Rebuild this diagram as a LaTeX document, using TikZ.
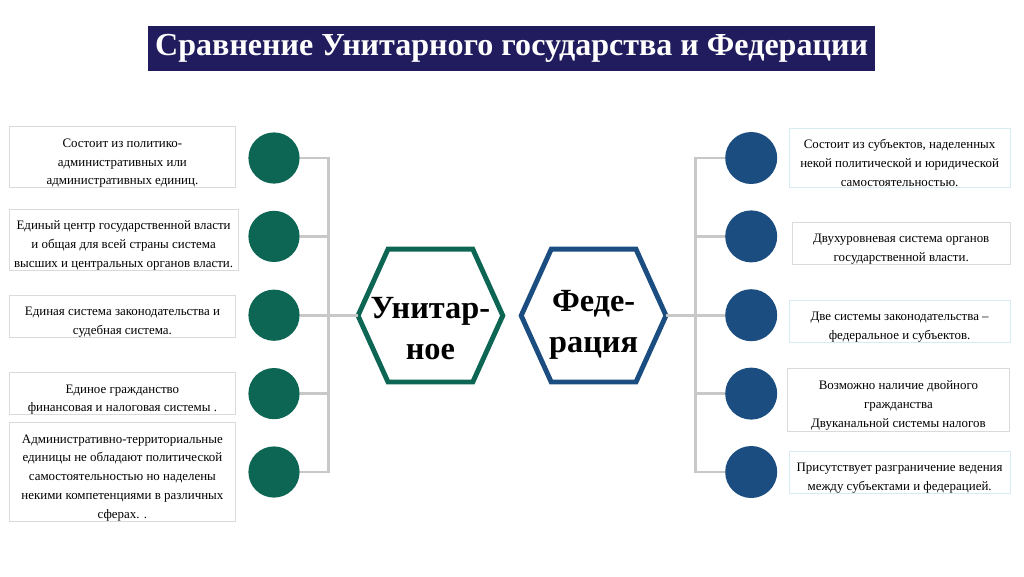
\documentclass[tikz,border=0pt]{standalone}
\usepackage{fontspec}
\setmainfont{Liberation Serif}
\definecolor{titlebg}{RGB}{33,28,94}
\definecolor{unigreen}{RGB}{13,102,84}
\definecolor{fedblue}{RGB}{27,77,128}
\definecolor{trunkgray}{RGB}{200,200,200}
\definecolor{boxgray}{RGB}{218,218,218}
\definecolor{boxcyan}{RGB}{214,236,240}
\newcommand\boxstrut{\rule{0pt}{14.5pt}}
\begin{document}
\begin{tikzpicture}[
textbox/.style={draw=boxgray,line width=0.6pt,align=center,inner sep=0pt,
  font=\fontsize{9.2}{13.4}\selectfont},
dotU/.style={circle,fill=unigreen,minimum size=1.28cm,inner sep=0pt},
dotF/.style={circle,fill=fedblue,minimum size=1.3cm,inner sep=0pt},
trunk/.style={draw=trunkgray,line width=2.1pt},
hexlabel/.style={align=center,font=\fontsize{23}{29.5}\bfseries\selectfont},
hexline/.style={line width=3.5pt,line join=miter}
]

\useasboundingbox
(0,0)
rectangle
(25.6,-14.4);

\node[fill=titlebg,text=white,minimum width=18.17cm,minimum height=1.12cm,
  font=\fontsize{22.8}{26}\bfseries\selectfont]
(T)
at (12.79,-1.21)
{Сравнение Унитарного государства и Федерации};

\node[hexlabel]
(U)
at (10.76,-8.22)
{Унитар-\\ное};

\draw[hexline,draw=unigreen]
(10.76,-7.89) ++(-1.81,0) coordinate (Uw)
-- ++(0.75,1.66)
-- ++(2.12,0)
-- ++(0.75,-1.66)
-- ++(-0.75,-1.66)
-- ++(-2.12,0)
-- cycle;

\node[hexlabel]
(F)
at (14.84,-8.12)
{Феде-\\рация};

\draw[hexline,draw=fedblue]
(14.84,-7.89) ++(-1.81,0)
-- ++(0.75,1.66)
-- ++(2.12,0)
-- ++(0.75,-1.66) coordinate (Fe)
-- ++(-0.75,-1.66)
-- ++(-2.12,0)
-- cycle;

\node[dotU] (L1) at (6.85,-3.95) {};
\node[dotU] (L2) at (6.85,-5.91) {};
\node[dotU] (L3) at (6.85,-7.88) {};
\node[dotU] (L4) at (6.85,-9.84) {};
\node[dotU] (L5) at (6.85,-11.80) {};

\coordinate (LT) at (8.22,0);

\draw[trunk] (L1.east) -- (L1.east -| LT) -- (L5.east -| LT) -- (L5.east);
\draw[trunk] (L2.east) -- (L2.east -| LT);
\draw[trunk] (L3.east) -- (L3.east -| LT);
\draw[trunk] (L4.east) -- (L4.east -| LT);
\draw[trunk] (Uw) -- (Uw -| LT);

\node[dotF] (R1) at (18.78,-3.95) {};
\node[dotF] (R2) at (18.78,-5.91) {};
\node[dotF] (R3) at (18.78,-7.88) {};
\node[dotF] (R4) at (18.78,-9.84) {};
\node[dotF] (R5) at (18.78,-11.80) {};

\coordinate (RT) at (17.38,0);

\draw[trunk] (R1.west) -- (R1.west -| RT) -- (R5.west -| RT) -- (R5.west);
\draw[trunk] (R2.west) -- (R2.west -| RT);
\draw[trunk] (R3.west) -- (R3.west -| RT);
\draw[trunk] (R4.west) -- (R4.west -| RT);
\draw[trunk] (Fe) -- (Fe -| RT);

\node[textbox,minimum width=5.67cm,minimum height=1.5cm]
(A1)
at (3.06,-3.93)
{\boxstrut Состоит из политико-\\административных или\\административных единиц.};

\node[textbox,minimum width=5.72cm,minimum height=1.52cm]
(A2)
at (3.09,-5.99)
{\boxstrut Единый центр государственной власти\\и общая для всей страны система\\высших и центральных органов власти.};

\node[textbox,minimum width=5.67cm,minimum height=1.05cm]
(A3)
at (3.06,-7.90)
{\boxstrut Единая система законодательства и\\судебная система.};

\node[textbox,minimum width=5.67cm,minimum height=1.03cm]
(A4)
at (3.06,-9.84)
{\boxstrut Единое гражданство\\финансовая и налоговая системы .};

\node[textbox,minimum width=5.67cm,minimum height=2.45cm]
(A5)
at (3.06,-11.80)
{\boxstrut Административно-территориальные\\единицы не обладают политической\\самостоятельностью но наделены\\некими компетенциями в различных\\сферах. .};

\node[textbox,draw=boxcyan,minimum width=5.52cm,minimum height=1.48cm]
(B1)
at (22.49,-3.94)
{\boxstrut Состоит из субъектов, наделенных\\некой политической и юридической\\самостоятельностью.};

\node[textbox,minimum width=5.45cm,minimum height=1.03cm]
(B2)
at (22.53,-6.09)
{\boxstrut Двухуровневая система органов\\государственной власти.};

\node[textbox,draw=boxcyan,minimum width=5.52cm,minimum height=1.03cm]
(B3)
at (22.49,-8.04)
{\boxstrut Две системы законодательства –\\федеральное и субъектов.};

\node[textbox,minimum width=5.57cm,minimum height=1.58cm]
(B4)
at (22.46,-9.99)
{\boxstrut Возможно наличие двойного\\гражданства\\Двуканальной системы налогов};

\node[textbox,draw=boxcyan,minimum width=5.52cm,minimum height=1.05cm]
(B5)
at (22.49,-11.80)
{\boxstrut Присутствует разграничение ведения\\между субъектами и федерацией.};

\end{tikzpicture}
\end{document}
